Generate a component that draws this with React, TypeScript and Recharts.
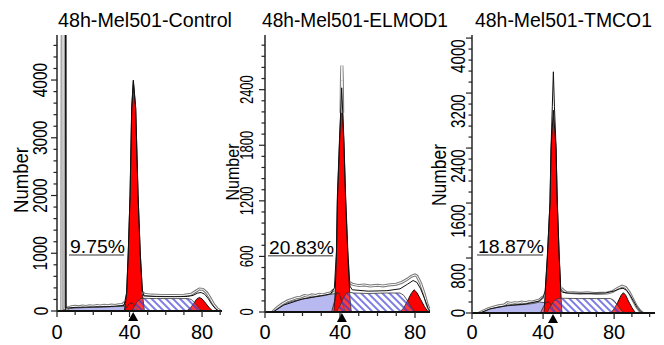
import React from 'react';
import { ComposedChart, Area, Line, XAxis, YAxis, ReferenceLine, ReferenceDot } from 'recharts';

type Pt = [number, number];

const FONT = 'Liberation Sans, Arial, Helvetica, sans-serif';

// ---------- Titles ----------
const TITLES = ['48h-Mel501-Control', '48h-Mel501-ELMOD1', '48h-Mel501-TMCO1'];
const PERCENTS = ['9.75%', '20.83%', '18.87%'];
const Y_LABEL = 'Number';

// ---------- Panel 1: Control ----------
const C_DEBRIS: Pt[] = [[5.5, 0], [6.5, 40], [10, 52], [15, 58], [20, 63], [25, 68], [30, 74], [35, 80], [38, 85], [41, 55], [43.5, 0]];
const C_G1: Pt[] = [[37.2, 0], [38.4, 300], [39.3, 1000], [40.3, 2000], [41.2, 3500], [42.1, 3980], [43.4, 3500], [44.7, 2000], [45.9, 1000], [47.3, 250], [48.2, 0]];
const C_LOBE: Pt[] = [[37, 0], [38.5, 70], [40, 130], [41.5, 140], [43, 80], [44.5, 15], [45.5, 0]];
const C_SPHASE: Pt[] = [[41, 0], [42.5, 70], [44, 150], [45.5, 205], [47, 220], [55, 215], [65, 215], [72, 215], [74, 200], [76, 140], [78, 60], [79.5, 10], [80.5, 0]];
const C_G2: Pt[] = [[71.5, 0], [73.5, 50], [75.5, 135], [77, 205], [78.5, 235], [80, 210], [82, 135], [84, 55], [85.5, 12], [86.5, 0]];
const C_FIT: Pt[] = [[4.6, 0], [4.75, 9000], [4.95, 9000], [5.1, 50], [10, 62], [20, 70], [30, 78], [37, 95], [38.4, 320], [39.3, 1020], [40.3, 2020], [41.2, 3520], [42.1, 4000], [43.4, 3520], [44.7, 2020], [45.9, 1020], [47, 360], [48, 260], [55, 250], [65, 248], [72, 252], [75, 270], [77.5, 310], [79.5, 320], [81.5, 290], [83.5, 210], [85.5, 110], [87.5, 35], [89, 5]];
const C_DATA_L: Pt[] = [[2.7, 0], [3.0, 9000], [3.6, 9000], [3.9, 40], [6, 55], [8, 75], [10, 80], [12, 72], [14, 85], [16, 80], [18, 90], [20, 84], [22, 95], [24, 88], [26, 98], [28, 92], [30, 102], [32, 96], [34, 108], [36, 112], [37.3, 150]];
const C_DATA_P: Pt[] = [];
const C_DATA_R: Pt[] = [[47.2, 330], [48, 290], [52, 275], [58, 270], [64, 268], [70, 272], [74, 290], [76.5, 340], [78.5, 380], [80.5, 375], [82.5, 320], [84.5, 220], [86.5, 110], [88.5, 35], [90, 5]];
const C_Y_TICKS = [0, 200, 400, 600, 800, 1000, 1200, 1400, 1600, 1800, 2000, 2200, 2400, 2600, 2800, 3000, 3200, 3400, 3600, 3800, 4000, 4200, 4400, 4600];
const C_Y_MAJOR = [0, 1000, 2000, 3000, 4000];
const C_X_TICKS = [0, 10, 20, 30, 40, 50, 60, 70, 80, 90];
const C_LINE: Pt[] = [[6.6, 970], [37, 970]];
const C_MARK = 42;

// ---------- Panel 2: ELMOD1 ----------
const E_DEBRIS: Pt[] = [[4.2, 0], [6, 30], [9, 70], [12, 100], [15, 120], [20, 140], [25, 160], [30, 175], [34, 188], [37, 198], [39, 170], [41, 100], [43, 30], [45, 0]];
const E_G1: Pt[] = [[36.8, 0], [37.3, 150], [38.1, 600], [38.6, 1200], [39.7, 1800], [40.9, 2395], [42.1, 1800], [43.0, 1200], [44.2, 600], [45.3, 150], [46, 0]];
const E_LOBE: Pt[] = [[35.5, 0], [37, 110], [38.2, 210], [39.5, 200], [41, 110], [42.5, 20], [43, 0]];
const E_SPHASE: Pt[] = [[38, 0], [40, 70], [42, 160], [43.5, 205], [45, 215], [47, 205], [55, 200], [65, 205], [72, 205], [74, 180], [76, 120], [78, 50], [79.5, 10], [80.5, 0]];
const E_G2: Pt[] = [[72, 0], [74, 45], [76, 120], [78, 200], [79.5, 240], [81, 210], [83, 135], [85, 60], [86.5, 15], [87.5, 0]];
const E_FIT: Pt[] = [[4.2, 0], [10, 75], [20, 140], [30, 175], [35, 195], [37, 260], [38.1, 650], [38.6, 1250], [39.7, 1850], [40.9, 2420], [42.1, 1850], [43, 1250], [44.2, 650], [45.3, 280], [46.5, 240], [55, 225], [65, 230], [72, 250], [76, 300], [79, 340], [81, 320], [83, 250], [85, 150], [87, 40], [88, 10]];
const E_DATA_L: Pt[] = [[4, 0], [6, 40], [9, 85], [12, 120], [15, 140], [17, 155], [19, 160], [21, 178], [23, 170], [25, 185], [27, 178], [29, 192], [31, 185], [33, 198], [35, 205], [36.6, 240]];
const E_DATA_P: Pt[] = [[40.55, 2150], [40.75, 2500], [41, 2660], [41.25, 2500], [41.45, 2150]];
const E_DATA_R: Pt[] = [[45.2, 320], [46.5, 300], [50, 285], [53, 292], [56, 280], [60, 288], [63, 282], [66, 292], [70, 300], [73, 320], [76, 355], [78, 385], [80, 400], [81, 390], [83, 310], [85, 190], [86.5, 80], [88, 10]];
const E_Y_TICKS = [0, 120, 240, 360, 480, 600, 720, 840, 960, 1080, 1200, 1320, 1440, 1560, 1680, 1800, 1920, 2040, 2160, 2280, 2400, 2520, 2640, 2760, 2880];
const E_Y_MAJOR = [0, 600, 1200, 1800, 2400];
const E_X_TICKS = [0, 10, 20, 30, 40, 50, 60, 70, 80];
const E_LINE: Pt[] = [[1.6, 607], [36.3, 607]];
const E_MARK = 41;

// ---------- Panel 3: TMCO1 ----------
const T_DEBRIS: Pt[] = [[4.5, 0], [7, 30], [10, 60], [15, 85], [20, 105], [25, 115], [30, 125], [35, 140], [38, 160], [41, 150], [43, 90], [45, 30], [47, 0]];
const T_G1: Pt[] = [[40.6, 0], [41.2, 300], [42.4, 800], [43.9, 1600], [44.5, 2400], [45.8, 2950], [47.3, 2400], [48, 1600], [49.1, 800], [50, 300], [50.6, 0]];
const T_LOBE: Pt[] = [[38.5, 0], [40, 80], [41.5, 150], [43, 165], [44.5, 120], [46, 40], [47, 0]];
const T_SPHASE: Pt[] = [[42, 0], [44, 90], [46, 170], [48, 210], [50, 215], [60, 210], [70, 210], [78, 210], [80, 180], [82, 110], [84, 40], [85.5, 5], [86.5, 0]];
const T_G2: Pt[] = [[78, 0], [80, 60], [82, 155], [84, 260], [85.2, 295], [86.5, 260], [88, 175], [90, 80], [91.5, 20], [92.5, 0]];
const T_FIT: Pt[] = [[4.5, 0], [10, 60], [20, 110], [30, 130], [38, 175], [40, 230], [41.2, 320], [42.4, 820], [43.9, 1620], [44.5, 2420], [45.2, 3000], [45.8, 3510], [46.4, 3000], [47.3, 2420], [48, 1620], [49.1, 820], [50, 330], [51, 300], [55, 290], [65, 285], [75, 290], [80, 320], [83, 350], [85, 360], [87, 330], [89, 260], [91, 170], [93, 80], [95, 20], [96.5, 0]];
const T_DATA_L: Pt[] = [[4, 0], [6, 25], [9, 60], [12, 85], [15, 105], [18, 115], [20, 150], [22, 140], [24, 150], [26, 145], [28, 160], [30, 150], [32, 165], [34, 160], [36, 175], [38, 190], [40.2, 240]];
const T_DATA_P: Pt[] = [];
const T_DATA_R: Pt[] = [[50.4, 360], [51, 340], [53, 300], [57, 296], [61, 288], [65, 294], [70, 282], [76, 290], [79, 310], [82, 360], [84.5, 390], [86.5, 372], [88.5, 300], [90.5, 200], [92.5, 100], [94.5, 30], [96, 0]];
const T_Y_TICKS = [0, 160, 320, 480, 640, 800, 960, 1120, 1280, 1440, 1600, 1760, 1920, 2080, 2240, 2400, 2560, 2720, 2880, 3040, 3200, 3360, 3520, 3680, 3840, 4000];
const T_Y_MAJOR = [0, 800, 1600, 2400, 3200, 4000];
const T_X_TICKS = [0, 10, 20, 30, 40, 50, 60, 70, 80, 90, 100];
const T_LINE: Pt[] = [[2.8, 844], [40, 844]];
const T_MARK = 45.6;

const X_MAJOR = [0, 40, 80];

const RED = '#ff0000';
const LAVENDER = '#b9b9f2';
const HATCH = '#3434d6';

function buildTable(series: Record<string, Pt[]>) {
  const map = new Map<number, any>();
  Object.entries(series).forEach(([key, pts]) => {
    pts.forEach(([x, y]) => {
      const row = map.get(x) ?? { x };
      row[key] = y;
      map.set(x, row);
    });
  });
  return Array.from(map.values()).sort((a, b) => a.x - b.x);
}

type Cfg = {
  id: string;
  left: number;
  width: number;
  right: number;
  yAxisW: number;
  xAxisH: number;
  xMax: number;
  yMax: number;
  xTicks: number[];
  yTicks: number[];
  yMajor: number[];
  yFont: number;
  yDigit: number;
  yLabelOff: number;
  yShift: number;
  series: Record<string, Pt[]>;
  line: Pt[];
  pct: string;
  pctLen: number;
  mark: number;
};

const PANELS: Cfg[] = [
  {
    id: 'c', left: 0, width: 230, right: 8, yAxisW: 57, xAxisH: 34, xMax: 91, yMax: 4780,
    xTicks: C_X_TICKS, yTicks: C_Y_TICKS, yMajor: C_Y_MAJOR, yFont: 20, yDigit: 8.6, yLabelOff: 9.5, yShift: 0,
    series: { debris: C_DEBRIS, g1: C_G1, lobe: C_LOBE, s: C_SPHASE, g2: C_G2, fit: C_FIT, dataL: C_DATA_L, dataP: C_DATA_P, dataR: C_DATA_R },
    line: C_LINE, pct: PERCENTS[0], pctLen: 55, mark: C_MARK,
  },
  {
    id: 'e', left: 215, width: 225, right: 10, yAxisW: 50, xAxisH: 33, xMax: 88, yMax: 2990,
    xTicks: E_X_TICKS, yTicks: E_Y_TICKS, yMajor: E_Y_MAJOR, yFont: 18, yDigit: 7.2, yLabelOff: 11.8, yShift: 0,
    series: { debris: E_DEBRIS, g1: E_G1, lobe: E_LOBE, s: E_SPHASE, g2: E_G2, fit: E_FIT, dataL: E_DATA_L, dataP: E_DATA_P, dataR: E_DATA_R },
    line: E_LINE, pct: PERCENTS[1], pctLen: 65, mark: E_MARK,
  },
  {
    id: 't', left: 425, width: 239, right: 9, yAxisW: 47, xAxisH: 32, xMax: 103, yMax: 4045,
    xTicks: T_X_TICKS, yTicks: T_Y_TICKS, yMajor: T_Y_MAJOR, yFont: 20, yDigit: 8.4, yLabelOff: 7, yShift: 18,
    series: { debris: T_DEBRIS, g1: T_G1, lobe: T_LOBE, s: T_SPHASE, g2: T_G2, fit: T_FIT, dataL: T_DATA_L, dataP: T_DATA_P, dataR: T_DATA_R },
    line: T_LINE, pct: PERCENTS[2], pctLen: 66, mark: T_MARK,
  },
];

const DATA_KEYS = ['dataL', 'dataP', 'dataR'];

function Panel({ cfg }: { cfg: Cfg }) {
  const data = buildTable(cfg.series);
  const yTick = (p: any) => {
    const v = p.payload.value;
    const major = cfg.yMajor.includes(v);
    const tx = p.x - cfg.yLabelOff;
    const ty = p.y + (v === 0 ? 0 : cfg.yShift);
    const s = String(v);
    return (
      <g>
        <line x1={p.x} x2={p.x - (major ? 6 : 3.5)} y1={p.y} y2={p.y} stroke="#222" strokeWidth={1.2} />
        {major && (
          <text x={tx} y={ty} transform={`rotate(-90 ${tx} ${ty})`} textAnchor="middle" fontFamily={FONT}
            fontSize={cfg.yFont} fill="#000" textLength={s.length * cfg.yDigit} lengthAdjust="spacingAndGlyphs">{s}</text>
        )}
      </g>
    );
  };
  const xTick = (p: any) => {
    const v = p.payload.value;
    const major = X_MAJOR.includes(v);
    return (
      <g>
        <line x1={p.x} x2={p.x} y1={p.y} y2={p.y + (major ? 6 : 4)} stroke="#222" strokeWidth={1.2} />
        {major && (
          <text x={p.x} y={339} textAnchor="middle" fontFamily={FONT} fontSize={20} fill="#000">{v}</text>
        )}
      </g>
    );
  };
  const hatchId = `hatch-${cfg.id}`;
  return (
    <div style={{ position: 'absolute', left: cfg.left, top: 0 }}>
      <ComposedChart width={cfg.width} height={345} data={data} margin={{ top: 35, right: cfg.right, bottom: 0, left: 0 }}>
        <defs>
          <pattern id={hatchId} patternUnits="userSpaceOnUse" width={5} height={5} patternTransform="rotate(-45)">
            <rect width={5} height={5} fill="#ffffff" fillOpacity={0.22} />
            <line x1={1} y1={0} x2={1} y2={5} stroke={HATCH} strokeWidth={1.3} />
          </pattern>
        </defs>
        <XAxis type="number" dataKey="x" domain={[0, cfg.xMax]} ticks={cfg.xTicks} interval={0} height={cfg.xAxisH}
          tickSize={0} tickMargin={0} tickLine={false} axisLine={{ stroke: '#111', strokeWidth: 1.8 }} tick={xTick} allowDataOverflow />
        <YAxis type="number" domain={[0, cfg.yMax]} ticks={cfg.yTicks} interval={0} width={cfg.yAxisW}
          tickSize={0} tickMargin={0} tickLine={false} axisLine={{ stroke: '#333', strokeWidth: 1.6 }} tick={yTick} allowDataOverflow />
        <Area dataKey="debris" type="linear" fill={LAVENDER} fillOpacity={1} stroke="#333" strokeWidth={0.8} connectNulls dot={false} activeDot={false} isAnimationActive={false} />
        <Area dataKey="g1" type="linear" fill={RED} fillOpacity={1} stroke="#111" strokeWidth={1} connectNulls dot={false} activeDot={false} isAnimationActive={false} />
        <Area dataKey="g2" type="linear" fill={RED} fillOpacity={1} stroke="#111" strokeWidth={1} connectNulls dot={false} activeDot={false} isAnimationActive={false} />
        <Area dataKey="lobe" type="linear" fill={RED} fillOpacity={0.35} stroke="#222" strokeWidth={0.8} connectNulls dot={false} activeDot={false} isAnimationActive={false} />
        <Area dataKey="s" type="linear" fill={`url(#${hatchId})`} fillOpacity={1} stroke="#333" strokeWidth={0.8} connectNulls dot={false} activeDot={false} isAnimationActive={false} />
        {DATA_KEYS.map((k) => (
          <Line key={`${k}-o`} dataKey={k} type="linear" stroke="#7a7a7a" strokeWidth={3} connectNulls dot={false} activeDot={false} isAnimationActive={false} />
        ))}
        {DATA_KEYS.map((k) => (
          <Line key={`${k}-i`} dataKey={k} type="linear" stroke="#ffffff" strokeWidth={1} connectNulls dot={false} activeDot={false} isAnimationActive={false} />
        ))}
        <Line dataKey="fit" type="linear" stroke="#111" strokeWidth={1} connectNulls dot={false} activeDot={false} isAnimationActive={false} />
        <ReferenceLine
          segment={[{ x: cfg.line[0][0], y: cfg.line[0][1] }, { x: cfg.line[1][0], y: cfg.line[1][1] }]}
          shape={(p: any) => (
            <g>
              <line x1={p.x1} y1={p.y1} x2={p.x2} y2={p.y2} stroke="#777" strokeWidth={1.5} />
              <text x={p.x1 + 1} y={p.y1 - 2} fontFamily={FONT} fontSize={19} fill="#000" textLength={cfg.pctLen} lengthAdjust="spacingAndGlyphs">{cfg.pct}</text>
            </g>
          )}
        />
        <ReferenceDot x={cfg.mark} y={0} r={0}
          shape={(p: any) => (
            <polygon points={`${p.cx},${p.cy + 1} ${p.cx - 5},${p.cy + 10} ${p.cx + 5},${p.cy + 10}`} fill="#000" />
          )}
        />
      </ComposedChart>
    </div>
  );
}

const TITLE_POS = [{ x: 145, len: 174 }, { x: 355, len: 186 }, { x: 563.5, len: 177 }];
const NUM_POS = [{ cx: 21, cy: 180, fs: 20, len: 66 }, { cx: 233, cy: 172, fs: 18, len: 57 }, { cx: 439, cy: 175, fs: 20, len: 62 }];

export default function App() {
  return (
    <div style={{ position: 'absolute', left: 0, top: 0, width: 664, height: 345, background: '#fff', overflow: 'hidden' }}>
      {PANELS.map((cfg) => <Panel key={cfg.id} cfg={cfg} />)}
      <svg width={664} height={345} style={{ position: 'absolute', left: 0, top: 0, pointerEvents: 'none' }}>
        {TITLES.map((t, i) => (
          <text key={t} x={TITLE_POS[i].x} y={26.5} textAnchor="middle" fontFamily={FONT} fontSize={19.5} fill="#000"
            textLength={TITLE_POS[i].len} lengthAdjust="spacingAndGlyphs">{t}</text>
        ))}
        {NUM_POS.map((n, i) => {
          const bx = n.cx + n.fs * 0.36;
          return (
            <text key={i} x={bx} y={n.cy} transform={`rotate(-90 ${bx} ${n.cy})`} textAnchor="middle" fontFamily={FONT}
              fontSize={n.fs} fill="#000" textLength={n.len} lengthAdjust="spacingAndGlyphs">{Y_LABEL}</text>
          );
        })}
      </svg>
    </div>
  );
}
